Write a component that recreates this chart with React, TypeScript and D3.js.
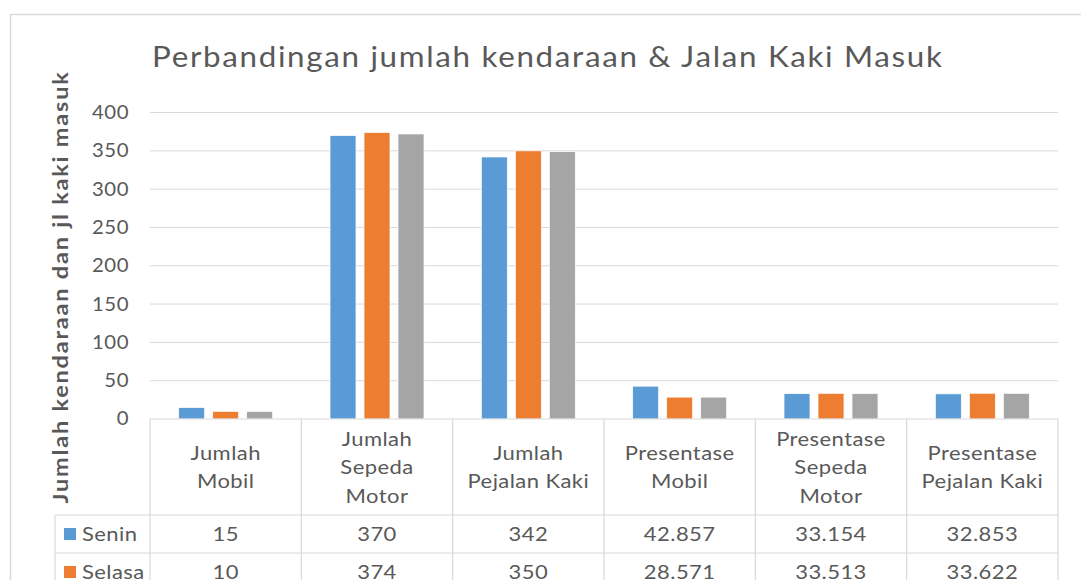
import React from 'react'
import * as d3 from 'd3'

const CATEGORIES = [
  ['Jumlah', 'Mobil'],
  ['Jumlah', 'Sepeda', 'Motor'],
  ['Jumlah', 'Pejalan Kaki'],
  ['Presentase', 'Mobil'],
  ['Presentase', 'Sepeda', 'Motor'],
  ['Presentase', 'Pejalan Kaki'],
]
const SERIES = ['Senin', 'Selasa', 'Rabu']
const SENIN = [15, 370, 342, 42.857, 33.154, 32.853]
const SELASA = [10, 374, 350, 28.571, 33.513, 33.622]
const RABU = [10, 372, 349, 28.571, 33.333, 33.525]
const Y_TICKS = [0, 50, 100, 150, 200, 250, 300, 350, 400]
const COLORS = ['#5B9BD5', '#ED7D31', '#A5A5A5']

const TITLE = 'Perbandingan jumlah kendaraan & Jalan Kaki Masuk'
const Y_TITLE = 'Jumlah kendaraan dan jl kaki masuk'

const W = 1081
const H = 580
const PLOT = { left: 150, right: 1058, top: 112.5, bottom: 419 }
const HEADER_H = 96
const ROW_H = 38
const LEGEND_X = 55
const FONT = 'Lato, "Open Sans", sans-serif'
const TXT = '#595959'
const GRID = '#D9D9D9'
const SX = 1.1 // excel text looks a bit stretched sideways

export default function App() {
  const values = [SENIN, SELASA, RABU]
  const idx = d3.range(CATEGORIES.length)

  const x0 = d3.scaleBand<number>().domain(idx).range([PLOT.left, PLOT.right]).padding(0)
  const x1 = d3.scaleBand<number>().domain(d3.range(SERIES.length))
    .range([(x0.bandwidth() - 94) / 2, (x0.bandwidth() + 94) / 2])
    .paddingInner(0.235).paddingOuter(0)
  const y = d3.scaleLinear().domain([0, 400]).range([PLOT.bottom, PLOT.top])

  const headerBottom = PLOT.bottom + HEADER_H
  const tableBottom = headerBottom + ROW_H * SERIES.length
  const cell = { fontSize: 20, letterSpacing: 0.4, fill: TXT }
  const at = (x: number, yy: number) => `translate(${x},${yy}) scale(${SX},1)`

  return (
    <svg width={W} height={H} style={{ position: 'absolute', left: 0, top: 0, background: '#fff' }}
      fontFamily={FONT}>
      {/* chart frame */}
      <rect x={10.5} y={14.5} width={1200} height={700} fill="#fff" stroke={GRID} strokeWidth={1.5} />

      <text transform={`translate(152,67) scale(1.12,1)`} fontSize={28} letterSpacing={1.5} fill={TXT}>{TITLE}</text>

      <text transform={`translate(68,287) rotate(-90) scale(1.12,1)`} textAnchor="middle"
        fontSize={21} fontWeight="bold" letterSpacing={1.6} fill={TXT}>{Y_TITLE}</text>

      {/* gridlines + y ticks */}
      {Y_TICKS.map(t => (
        <g key={t}>
          {t > 0 && <line x1={PLOT.left} x2={PLOT.right} y1={y(t)} y2={y(t)} stroke={GRID} strokeWidth={1} />}
          <text transform={at(129, y(t))} dy="0.35em" textAnchor="end" fontSize={18.5} letterSpacing={0.5}
            fill={TXT}>{t}</text>
        </g>
      ))}

      {/* bars */}
      {idx.map(i => (
        <g key={i} transform={`translate(${x0(i)},0)`}>
          {values.map((vals, s) => (
            <rect key={s} x={x1(s)} y={y(vals[i])} width={x1.bandwidth()} height={y(0) - y(vals[i])}
              fill={COLORS[s]} stroke="#fff" strokeWidth={0.75} />
          ))}
        </g>
      ))}

      {/* data table */}
      <g stroke={GRID} strokeWidth={1.2}>
        <line x1={PLOT.left} x2={PLOT.right} y1={PLOT.bottom} y2={PLOT.bottom} />
        {SERIES.map((_, r) => (
          <line key={r} x1={LEGEND_X} x2={PLOT.right} y1={headerBottom + r * ROW_H} y2={headerBottom + r * ROW_H} />
        ))}
        <line x1={LEGEND_X} x2={PLOT.right} y1={tableBottom} y2={tableBottom} />
        <line x1={LEGEND_X} x2={LEGEND_X} y1={headerBottom} y2={tableBottom} />
        {idx.map(i => (
          <line key={i} x1={x0(i)} x2={x0(i)} y1={PLOT.bottom} y2={tableBottom} />
        ))}
        <line x1={PLOT.right} x2={PLOT.right} y1={PLOT.bottom} y2={tableBottom} />
      </g>

      {CATEGORIES.map((lines, i) => {
        const cx = (x0(i) ?? 0) + x0.bandwidth() / 2
        const cy = PLOT.bottom + HEADER_H / 2
        const lh = 28.5
        return (
          <g key={i}>
            {lines.map((l, k) => (
              <text key={k} transform={at(cx, cy + (k - (lines.length - 1) / 2) * lh)} dy="0.35em"
                textAnchor="middle" {...cell}>{l}</text>
            ))}
          </g>
        )
      })}

      {SERIES.map((name, r) => {
        const cy = headerBottom + r * ROW_H + ROW_H / 2
        return (
          <g key={name}>
            <rect x={64} y={cy - 6} width={12} height={12} fill={COLORS[r]} />
            <text transform={at(82, cy)} dy="0.35em" {...cell}>{name}</text>
            {values[r].map((v, i) => (
              <text key={i} transform={at((x0(i) ?? 0) + x0.bandwidth() / 2, cy)} dy="0.35em"
                textAnchor="middle" {...cell}>{i < 3 ? d3.format('d')(v) : d3.format('.3f')(v)}</text>
            ))}
          </g>
        )
      })}
    </svg>
  )
}
